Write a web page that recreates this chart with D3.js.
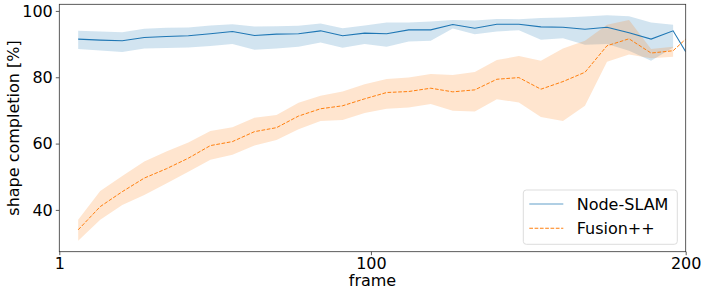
<!DOCTYPE html>
<head>
  <meta charset="utf-8" />
  <script src="https://d3js.org/d3.v7.min.js"></script>
  <style>
    body { margin: 0; background: #fff; }
    text { font-family: "DejaVu Sans", sans-serif; }
  </style>
</head>
<body>
  <script>
    var width = 706, height = 288;
    var margin = { left: 59.3, right: 20.3, top: 4.3, bottom: 36.3 };

    // frames sampled every 7, plus the last frame
    var frames = [7, 14, 21, 28, 35, 42, 49, 56, 63, 70, 77, 84, 91, 98, 105, 112,
      119, 126, 133, 140, 147, 154, 161, 168, 175, 182, 189, 196, 200];

    var nodeMean = [91.5, 91.2, 91.0, 92.0, 92.3, 92.5, 93.1, 93.8, 92.6, 93.0, 93.1, 94.0,
      92.5, 93.3, 93.1, 94.3, 94.3, 95.9, 94.8, 96.0, 96.0, 95.2, 95.1, 94.5, 95.1, 93.4,
      91.5, 94.0, 87.7];
    var nodeLow = [88.5, 88.1, 87.6, 88.7, 88.8, 89.0, 89.4, 90.0, 88.3, 88.7, 89.2, 90.5,
      88.9, 90.0, 89.2, 90.8, 91.0, 94.7, 93.0, 93.8, 94.2, 91.3, 91.8, 89.8, 90.0, 88.0,
      85.0, 89.0, null];
    var nodeHigh = [94.0, 93.8, 93.6, 94.6, 94.9, 95.0, 95.6, 96.0, 95.3, 95.4, 95.5, 96.2,
      94.8, 95.6, 96.5, 96.5, 96.8, 97.3, 97.1, 97.6, 97.5, 97.9, 98.0, 98.3, 98.7, 98.4,
      96.5, 95.8, null];

    var fusMean = [34.0, 41.0, 45.5, 49.6, 52.4, 55.6, 59.4, 60.6, 63.6, 64.8, 68.3, 70.5,
      71.4, 73.5, 75.4, 75.7, 76.7, 75.6, 76.2, 79.4, 79.9, 76.4, 78.7, 81.5, 89.5, 91.6,
      87.3, 88.0, 91.5];
    var fusLow = [30.7, 37.0, 41.5, 44.5, 48.0, 51.5, 55.1, 56.6, 59.4, 61.1, 64.3, 66.8,
      67.1, 69.2, 70.5, 70.9, 71.9, 69.9, 69.7, 73.4, 72.4, 68.0, 66.8, 71.4, 84.7, 86.9,
      85.7, 86.2, null];
    var fusHigh = [37.0, 45.7, 50.2, 54.6, 57.6, 60.3, 63.8, 64.9, 67.8, 68.6, 72.3, 74.4,
      75.7, 77.9, 79.5, 79.9, 81.0, 80.7, 81.6, 85.2, 86.4, 85.0, 88.7, 91.0, 95.8, 97.3,
      88.5, 89.2, null];

    var xTicks = [1, 100, 200];
    var yTicks = [40, 60, 80, 100];
    var seriesNames = ["Node-SLAM", "Fusion++"];

    var blue = "#1f77b4", orange = "#ff7f0e";

    var svg = d3.select("body").append("svg")
      .attr("width", width).attr("height", height);

    var x = d3.scaleLinear().domain([1, 200]).range([margin.left, width - margin.right]);
    var y = d3.scaleLinear().domain([27.4, 102]).range([height - margin.bottom, margin.top]);

    svg.append("clipPath").attr("id", "clip").append("rect")
      .attr("x", margin.left).attr("y", margin.top)
      .attr("width", width - margin.left - margin.right)
      .attr("height", height - margin.top - margin.bottom);

    var plot = svg.append("g").attr("clip-path", "url(#clip)");

    function band(low, high) {
      return d3.area()
        .defined(function (d, i) { return low[i] != null; })
        .x(function (d) { return x(d); })
        .y0(function (d, i) { return y(low[i]); })
        .y1(function (d, i) { return y(high[i]); });
    }
    function line(vals) {
      return d3.line()
        .x(function (d) { return x(d); })
        .y(function (d, i) { return y(vals[i]); });
    }

    plot.append("path").attr("d", band(nodeLow, nodeHigh)(frames))
      .attr("fill", blue).attr("fill-opacity", 0.2);
    plot.append("path").attr("d", band(fusLow, fusHigh)(frames))
      .attr("fill", orange).attr("fill-opacity", 0.2);
    plot.append("path").attr("d", line(nodeMean)(frames))
      .attr("fill", "none").attr("stroke", blue).attr("stroke-width", 1.1);
    plot.append("path").attr("d", line(fusMean)(frames))
      .attr("fill", "none").attr("stroke", orange).attr("stroke-width", 1)
      .attr("stroke-dasharray", "3.7,1.6");

    // axes
    var xAxis = svg.append("g")
      .attr("transform", "translate(0," + (height - margin.bottom) + ")")
      .call(d3.axisBottom(x).tickValues(xTicks).tickSize(3.5).tickPadding(2));
    var yAxis = svg.append("g")
      .attr("transform", "translate(" + margin.left + ",0)")
      .call(d3.axisLeft(y).tickValues(yTicks).tickSize(3.5).tickPadding(3));
    [xAxis, yAxis].forEach(function (a) {
      a.select(".domain").remove();
      a.selectAll("line").attr("stroke", "#333").attr("stroke-width", 0.8);
      a.selectAll("text").attr("font-size", 16).attr("fill", "#000")
        .style("font-family", "DejaVu Sans");
    });

    svg.append("rect")
      .attr("x", margin.left).attr("y", margin.top)
      .attr("width", width - margin.left - margin.right)
      .attr("height", height - margin.top - margin.bottom)
      .attr("fill", "none").attr("stroke", "#333").attr("stroke-width", 0.8);

    svg.append("text").attr("x", (margin.left + width - margin.right) / 2).attr("y", 285.5)
      .attr("text-anchor", "middle").attr("font-size", 16).text("frame");
    svg.append("text")
      .attr("transform", "translate(19," + ((margin.top + height - margin.bottom) / 2) + ") rotate(-90)")
      .attr("text-anchor", "middle").attr("font-size", 16).text("shape completion [%]");

    // legend
    var lg = svg.append("g");
    lg.append("rect").attr("x", 523.3).attr("y", 190).attr("width", 154).attr("height", 54.3)
      .attr("rx", 3).attr("fill", "#fff").attr("fill-opacity", 0.8)
      .attr("stroke", "#ddd").attr("stroke-width", 1);
    var styles = [{ c: blue, dash: null }, { c: orange, dash: "3.7,1.6" }];
    seriesNames.forEach(function (name, i) {
      var yy = 204 + i * 24.3;
      lg.append("line").attr("x1", 529.3).attr("x2", 563.3).attr("y1", yy).attr("y2", yy)
        .attr("stroke", styles[i].c).attr("stroke-width", 1.1)
        .attr("stroke-opacity", i == 0 ? 0.7 : 1)
        .attr("stroke-dasharray", styles[i].dash);
      lg.append("text").attr("x", 576.7).attr("y", yy + 6).attr("font-size", 16).text(name);
    });
  </script>
</body>
